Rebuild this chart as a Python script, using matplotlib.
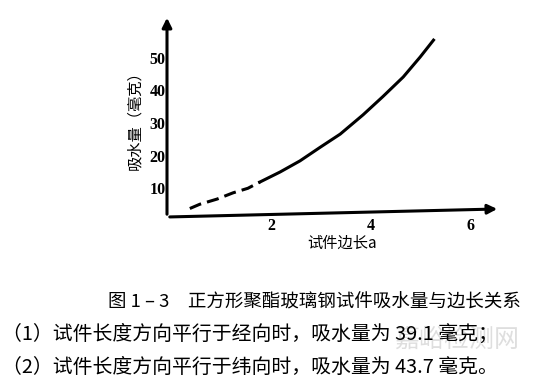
import matplotlib
matplotlib.use('Agg')
import matplotlib.pyplot as plt

plt.rcParams['font.family'] = ['Noto Sans CJK SC', 'DejaVu Sans']

# curve (side length a, water uptake mg)
dash_x = [0.35, 0.55, 0.90, 1.22, 1.52, 1.76]
dash_y = [3.8, 5.1, 6.7, 8.6, 10.0, 11.9]
solid_x = [1.76, 2.17, 2.57, 2.97, 3.38, 3.84, 4.24, 4.65, 4.99, 5.26]
solid_y = [11.9, 15.0, 18.4, 22.5, 26.6, 32.5, 38.1, 44.1, 50.2, 55.4]

xticks = [2, 4, 6]
yticks = [10, 20, 30, 40, 50]

ylabel = '吸水量（毫克）'
xlabel = '试件边长a'
caption = ['图 1 – 3　正方形聚酯玻璃钢试件吸水量与边长关系',
           '（1）试件长度方向平行于经向时，吸水量为 39.1 毫克；',
           '（2）试件长度方向平行于纬向时，吸水量为 43.7 毫克。']

W, H = 534, 386
fig = plt.figure(figsize=(W / 100, H / 100), dpi=100)
ax = fig.add_axes([167 / W, (H - 217) / H, 333 / W, 202 / H])

ax.plot(dash_x, dash_y, color='black', lw=2.2, dashes=(4, 2), solid_joinstyle='round')
ax.plot(solid_x, solid_y, color='black', lw=2.2, solid_joinstyle='round')

ax.set_xlim(-0.11, 6.6)
ax.set_ylim(1.2, 63.1)
for s in ax.spines.values():
    s.set_visible(False)

# arrowed axes
arrow = dict(arrowstyle='-|>', lw=2.2, color='black', mutation_scale=14)
ax.annotate('', xy=(1.0, 0.04), xytext=(0, 0), xycoords='axes fraction', arrowprops=arrow)
ax.annotate('', xy=(0, 1.0), xytext=(0, 0), xycoords='axes fraction', arrowprops=arrow)

ax.set_xticks(xticks)
ax.set_yticks(yticks)
ax.tick_params(length=0, pad=1)
for lab in ax.get_xticklabels() + ax.get_yticklabels():
    lab.set_fontfamily('Liberation Serif')
    lab.set_fontweight('bold')
    lab.set_fontsize(11.5)

fig.text(135 / W, 1 - 117 / H, ylabel, rotation=90, ha='center', va='center', fontsize=11)
fig.text(342 / W, 1 - 243 / H, xlabel, ha='center', va='center', fontsize=11)

fig.text(108 / W, 1 - 302 / H, caption[0], ha='left', va='center', fontsize=13.3)
fig.text(2 / W, 1 - 334 / H, caption[1], ha='left', va='center', fontsize=14.3)
fig.text(2 / W, 1 - 367 / H, caption[2], ha='left', va='center', fontsize=14.3)

# faint watermark
fig.text(457 / W, 1 - 340 / H, '嘉峪检测网', ha='center', va='center', fontsize=18,
         color='#d0d0d0', alpha=0.7, zorder=0)

fig.savefig('out.png', dpi=100)
